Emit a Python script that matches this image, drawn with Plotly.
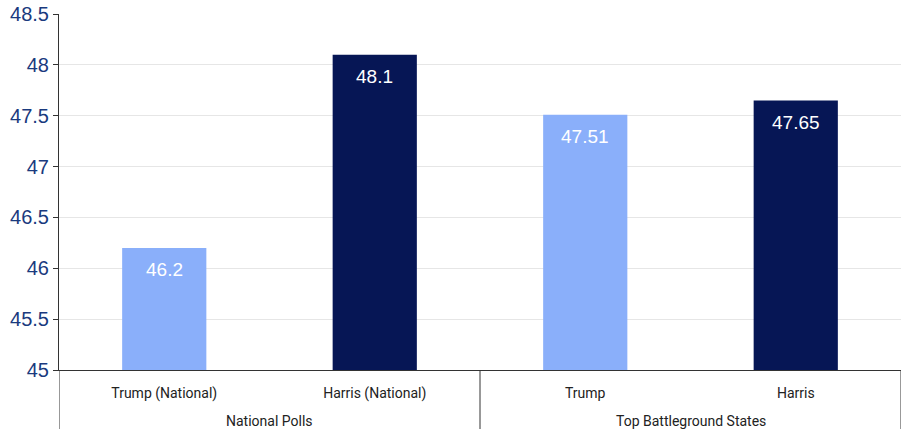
import plotly.graph_objects as go

groups = ["National Polls", "Top Battleground States"]
group_sizes = [2, 2]
candidates = ["Trump (National)", "Harris (National)", "Trump", "Harris"]
values = [46.2, 48.1, 47.51, 47.65]
labels = ["46.2", "48.1", "47.51", "47.65"]
colors = ["#8AAFFA", "#061655", "#8AAFFA", "#061655"]
y_ticks = [45, 45.5, 46, 46.5, 47, 47.5, 48, 48.5]
y_base = 45

fig = go.Figure(go.Bar(
    x=candidates,
    y=[v - y_base for v in values],
    base=y_base,
    marker=dict(color=colors, line=dict(width=0)),
    width=0.4,
    hoverinfo="skip",
))

# value labels inside the bars, near the top
for i, (v, t) in enumerate(zip(values, labels)):
    fig.add_annotation(x=i, y=v, xref="x", yref="y", text=t, showarrow=False,
                       yanchor="middle", yshift=-22,
                       font=dict(color="white", size=19, family="Liberation Sans"))

# group labels and dividers
bottom = -0.17
start = -0.5
fig.add_shape(type="line", xref="x", yref="paper", x0=start, x1=start, y0=0, y1=bottom,
              line=dict(color="#333333", width=1))
for g, n in zip(groups, group_sizes):
    center = start + n / 2
    fig.add_annotation(x=center, y=-0.142, xref="x", yref="paper", text=g, showarrow=False,
                       yanchor="middle", font=dict(size=14, color="#222222", family="Roboto"))
    start += n
    fig.add_shape(type="line", xref="x", yref="paper", x0=start, x1=start, y0=0, y1=bottom,
                  line=dict(color="#333333", width=1))

fig.update_layout(
    width=904, height=429,
    margin=dict(l=59, r=3, t=11, b=59),
    paper_bgcolor="white", plot_bgcolor="white",
    showlegend=False,
)
fig.update_yaxes(
    range=[45, 48.5],
    tickvals=y_ticks,
    ticktext=[("%g" % t) for t in y_ticks],
    tickfont=dict(size=20, color="#1A3A7E", family="Liberation Sans"),
    showgrid=True, gridcolor="#E6E6E6", gridwidth=1,
    showline=True, linecolor="#333333", linewidth=1,
    ticks="outside", ticklen=5, tickcolor="#333333",
    zeroline=False,
)
fig.update_xaxes(
    type="category",
    range=[-0.5, 3.5],
    showline=True, linecolor="#333333", linewidth=1,
    ticks="outside", ticklen=10, tickcolor="rgba(0,0,0,0)",
    tickfont=dict(size=14, color="#222222", family="Roboto"),
    showgrid=False,
)
fig.write_html("out.html")
